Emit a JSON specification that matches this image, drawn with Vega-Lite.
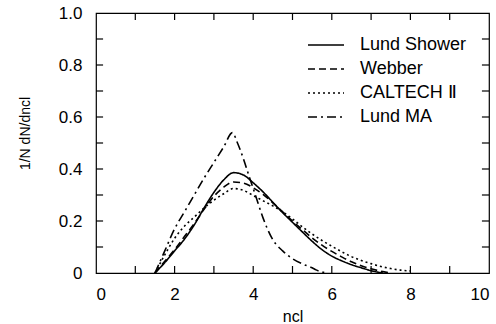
{
  "$schema": "https://vega.github.io/schema/vega-lite/v6.json",
  "width": 393,
  "height": 260,
  "autosize": {"type": "none"},
  "padding": {"left": 96, "top": 13, "right": 7, "bottom": 51},
  "background": "white",
  "config": {
    "font": "Liberation Sans",
    "view": {"stroke": "black", "strokeWidth": 1.2},
    "scale": {"continuousPadding": 0},
    "axis": {"grid": false, "domain": false, "ticks": false, "labelColor": "black", "titleColor": "black", "labelFont": "Liberation Sans", "titleFont": "Liberation Sans", "labelFontSize": 17, "titleFontWeight": "normal"}
  },
  "datasets": {
    "xt": [{"v": 1}, {"v": 2}, {"v": 3}, {"v": 4}, {"v": 5}, {"v": 6}, {"v": 7}, {"v": 8}, {"v": 9}],
    "yt": [{"v": 0.1}, {"v": 0.2}, {"v": 0.3}, {"v": 0.4}, {"v": 0.5}, {"v": 0.6}, {"v": 0.7}, {"v": 0.8}, {"v": 0.9}],
    "curves": [
      {"s": "Lund Shower", "x": 1.5, "y": 0},
      {"s": "Lund Shower", "x": 1.75, "y": 0.04},
      {"s": "Lund Shower", "x": 2.0, "y": 0.085},
      {"s": "Lund Shower", "x": 2.25, "y": 0.13},
      {"s": "Lund Shower", "x": 2.5, "y": 0.185},
      {"s": "Lund Shower", "x": 2.75, "y": 0.25},
      {"s": "Lund Shower", "x": 3.0, "y": 0.31},
      {"s": "Lund Shower", "x": 3.25, "y": 0.358},
      {"s": "Lund Shower", "x": 3.5, "y": 0.386},
      {"s": "Lund Shower", "x": 3.75, "y": 0.377},
      {"s": "Lund Shower", "x": 4.0, "y": 0.347},
      {"s": "Lund Shower", "x": 4.25, "y": 0.312},
      {"s": "Lund Shower", "x": 4.5, "y": 0.272},
      {"s": "Lund Shower", "x": 4.75, "y": 0.232},
      {"s": "Lund Shower", "x": 5.0, "y": 0.195},
      {"s": "Lund Shower", "x": 5.25, "y": 0.158},
      {"s": "Lund Shower", "x": 5.5, "y": 0.122},
      {"s": "Lund Shower", "x": 5.75, "y": 0.09},
      {"s": "Lund Shower", "x": 6.0, "y": 0.065},
      {"s": "Lund Shower", "x": 6.25, "y": 0.047},
      {"s": "Lund Shower", "x": 6.5, "y": 0.032},
      {"s": "Lund Shower", "x": 6.75, "y": 0.02},
      {"s": "Lund Shower", "x": 7.0, "y": 0.009},
      {"s": "Lund Shower", "x": 7.3, "y": 0},
      {"s": "Webber", "x": 1.5, "y": 0},
      {"s": "Webber", "x": 1.75, "y": 0.045},
      {"s": "Webber", "x": 2.0, "y": 0.09},
      {"s": "Webber", "x": 2.25, "y": 0.14},
      {"s": "Webber", "x": 2.5, "y": 0.19},
      {"s": "Webber", "x": 2.75, "y": 0.245},
      {"s": "Webber", "x": 3.0, "y": 0.295},
      {"s": "Webber", "x": 3.25, "y": 0.33},
      {"s": "Webber", "x": 3.5, "y": 0.35},
      {"s": "Webber", "x": 3.75, "y": 0.346},
      {"s": "Webber", "x": 4.0, "y": 0.328},
      {"s": "Webber", "x": 4.25, "y": 0.302},
      {"s": "Webber", "x": 4.5, "y": 0.27},
      {"s": "Webber", "x": 4.75, "y": 0.235},
      {"s": "Webber", "x": 5.0, "y": 0.2},
      {"s": "Webber", "x": 5.25, "y": 0.167},
      {"s": "Webber", "x": 5.5, "y": 0.135},
      {"s": "Webber", "x": 5.75, "y": 0.107},
      {"s": "Webber", "x": 6.0, "y": 0.083},
      {"s": "Webber", "x": 6.25, "y": 0.062},
      {"s": "Webber", "x": 6.5, "y": 0.043},
      {"s": "Webber", "x": 6.75, "y": 0.028},
      {"s": "Webber", "x": 7.0, "y": 0.016},
      {"s": "Webber", "x": 7.25, "y": 0.007},
      {"s": "Webber", "x": 7.5, "y": 0},
      {"s": "CALTECH Ⅱ", "x": 1.5, "y": 0},
      {"s": "CALTECH Ⅱ", "x": 1.75, "y": 0.07},
      {"s": "CALTECH Ⅱ", "x": 2.0, "y": 0.133},
      {"s": "CALTECH Ⅱ", "x": 2.25, "y": 0.18},
      {"s": "CALTECH Ⅱ", "x": 2.5, "y": 0.215},
      {"s": "CALTECH Ⅱ", "x": 2.75, "y": 0.25},
      {"s": "CALTECH Ⅱ", "x": 3.0, "y": 0.28},
      {"s": "CALTECH Ⅱ", "x": 3.25, "y": 0.305},
      {"s": "CALTECH Ⅱ", "x": 3.5, "y": 0.325},
      {"s": "CALTECH Ⅱ", "x": 3.75, "y": 0.318},
      {"s": "CALTECH Ⅱ", "x": 4.0, "y": 0.298},
      {"s": "CALTECH Ⅱ", "x": 4.25, "y": 0.278},
      {"s": "CALTECH Ⅱ", "x": 4.5, "y": 0.258},
      {"s": "CALTECH Ⅱ", "x": 4.75, "y": 0.235},
      {"s": "CALTECH Ⅱ", "x": 5.0, "y": 0.208},
      {"s": "CALTECH Ⅱ", "x": 5.25, "y": 0.178},
      {"s": "CALTECH Ⅱ", "x": 5.5, "y": 0.15},
      {"s": "CALTECH Ⅱ", "x": 5.75, "y": 0.125},
      {"s": "CALTECH Ⅱ", "x": 6.0, "y": 0.103},
      {"s": "CALTECH Ⅱ", "x": 6.25, "y": 0.082},
      {"s": "CALTECH Ⅱ", "x": 6.5, "y": 0.063},
      {"s": "CALTECH Ⅱ", "x": 6.75, "y": 0.048},
      {"s": "CALTECH Ⅱ", "x": 7.0, "y": 0.036},
      {"s": "CALTECH Ⅱ", "x": 7.25, "y": 0.025},
      {"s": "CALTECH Ⅱ", "x": 7.5, "y": 0.017},
      {"s": "CALTECH Ⅱ", "x": 7.75, "y": 0.011},
      {"s": "CALTECH Ⅱ", "x": 8.0, "y": 0.008},
      {"s": "Lund MA", "x": 1.5, "y": 0},
      {"s": "Lund MA", "x": 1.75, "y": 0.085},
      {"s": "Lund MA", "x": 2.0, "y": 0.17},
      {"s": "Lund MA", "x": 2.25, "y": 0.235},
      {"s": "Lund MA", "x": 2.5, "y": 0.3},
      {"s": "Lund MA", "x": 2.75, "y": 0.365},
      {"s": "Lund MA", "x": 3.0, "y": 0.425},
      {"s": "Lund MA", "x": 3.25, "y": 0.485},
      {"s": "Lund MA", "x": 3.47, "y": 0.54},
      {"s": "Lund MA", "x": 3.6, "y": 0.5},
      {"s": "Lund MA", "x": 3.75, "y": 0.44},
      {"s": "Lund MA", "x": 3.9, "y": 0.37},
      {"s": "Lund MA", "x": 4.0, "y": 0.325},
      {"s": "Lund MA", "x": 4.12, "y": 0.27},
      {"s": "Lund MA", "x": 4.25, "y": 0.212},
      {"s": "Lund MA", "x": 4.5, "y": 0.128},
      {"s": "Lund MA", "x": 4.75, "y": 0.085},
      {"s": "Lund MA", "x": 5.0, "y": 0.055},
      {"s": "Lund MA", "x": 5.25, "y": 0.035},
      {"s": "Lund MA", "x": 5.5, "y": 0.02},
      {"s": "Lund MA", "x": 5.6, "y": 0.012},
      {"s": "Lund MA", "x": 5.85, "y": 0}
    ]
  },
  "layer": [
    {
      "data": {"name": "curves"},
      "mark": {"type": "line", "color": "black", "strokeWidth": 1.6, "interpolate": "monotone"},
      "encoding": {
        "x": {"field": "x", "type": "quantitative", "scale": {"domain": [0, 10], "nice": false, "padding": 0, "zero": false},
          "axis": {"orient": "bottom", "values": [0,2,4,6,8,10], "labelPadding": 13, "title": "ncl", "titleFontSize": 16, "titlePadding": 6}},
        "y": {"field": "y", "type": "quantitative", "scale": {"domain": [0, 1], "nice": false, "padding": 0, "zero": false},
          "axis": {"orient": "left", "values": [0,0.2,0.4,0.6,0.8,1.0], "labelExpr": "datum.value == 0 ? '0' : format(datum.value, '.1f')", "labelPadding": 14, "title": "1/N dN/dncl", "titleAngle": 270, "titleFontSize": 14, "titlePadding": 26, "titleY": 120}},
        "strokeDash": {"field": "s", "type": "nominal", "sort": ["Lund Shower", "Webber", "CALTECH Ⅱ", "Lund MA"],
          "scale": {"domain": ["Lund Shower", "Webber", "CALTECH Ⅱ", "Lund MA"], "range": [[1, 0], [7, 4], [2, 3], [9, 4, 2, 4]]},
          "legend": {"title": null, "orient": "none", "legendX": 211, "legendY": 20, "symbolType": "stroke", "symbolSize": 1296, "symbolStrokeColor": "black", "symbolStrokeWidth": 1.6, "labelFontSize": 18, "labelFont": "Liberation Sans", "labelColor": "black", "labelOffset": 15, "rowPadding": 0, "clipHeight": 24, "padding": 0}}
      }
    },
    {
      "data": {"name": "xt"},
      "mark": {"type": "bar", "color": "black", "size": 1.2},
      "encoding": {"x": {"field": "v", "type": "quantitative"}, "y": {"datum": 0, "type": "quantitative"}, "y2": {"datum": 0.027}}
    },
    {
      "data": {"name": "xt"},
      "mark": {"type": "bar", "color": "black", "size": 1.2},
      "encoding": {"x": {"field": "v", "type": "quantitative"}, "y": {"datum": 0.973, "type": "quantitative"}, "y2": {"datum": 1}}
    },
    {
      "data": {"name": "yt"},
      "mark": {"type": "bar", "color": "black", "size": 1.2},
      "encoding": {"y": {"field": "v", "type": "quantitative"}, "x": {"datum": 0, "type": "quantitative"}, "x2": {"datum": 0.18}}
    },
    {
      "data": {"name": "yt"},
      "mark": {"type": "bar", "color": "black", "size": 1.2},
      "encoding": {"y": {"field": "v", "type": "quantitative"}, "x": {"datum": 9.82, "type": "quantitative"}, "x2": {"datum": 10}}
    }
  ]
}
